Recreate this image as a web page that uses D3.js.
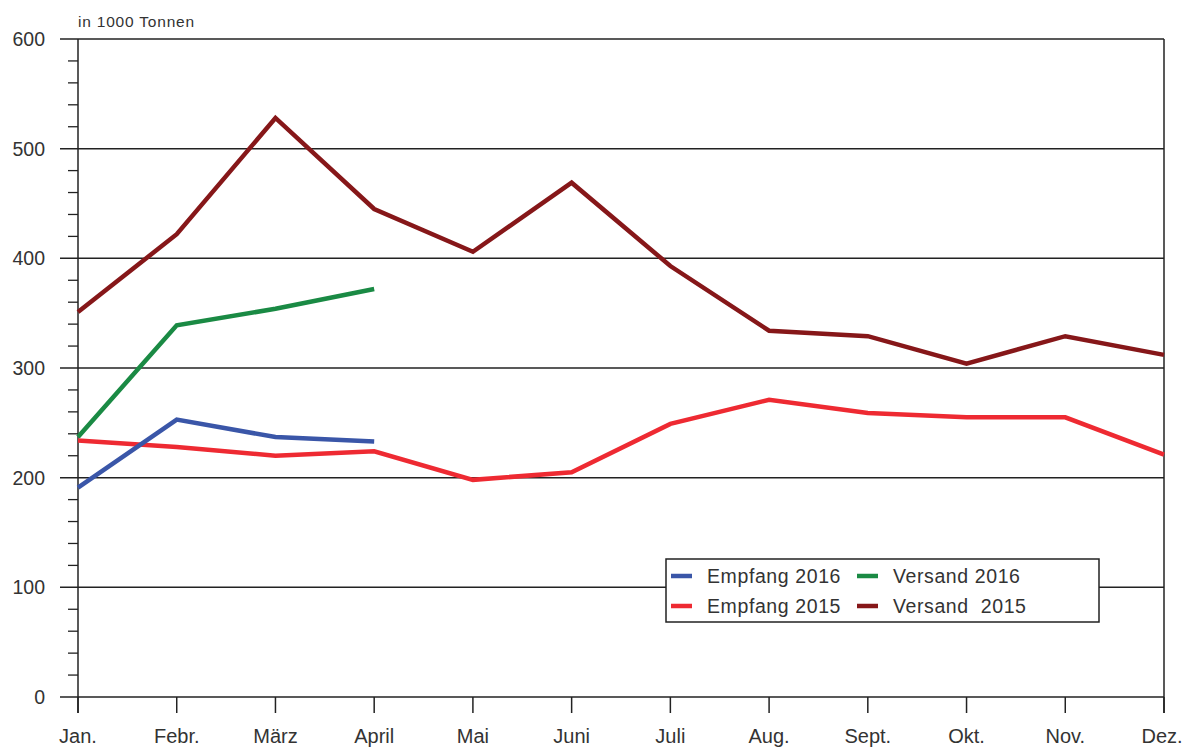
<!DOCTYPE html>
<html>
<head>
<meta charset="utf-8">
<script src="https://cdnjs.cloudflare.com/ajax/libs/d3/7.8.5/d3.min.js"></script>
<style>
  body { margin: 0; background: #fff; }
  text { font-family: "Liberation Sans", Arial, sans-serif; fill: #333; }
</style>
</head>
<body>
<div id="chart"></div>
<script>
var months = ['Jan.', 'Febr.', 'März', 'April', 'Mai', 'Juni', 'Juli', 'Aug.', 'Sept.', 'Okt.', 'Nov.', 'Dez.'];
var yTicks = [0, 100, 200, 300, 400, 500, 600];

var empfang2016 = [191, 253, 237, 233];
var versand2016 = [237, 339, 354, 372];
var empfang2015 = [234, 228, 220, 224, 198, 205, 249, 271, 259, 255, 255, 221];
var versand2015 = [351, 422, 528, 445, 406, 469, 393, 334, 329, 304, 329, 312];

var seriesNames = ['Empfang 2016', 'Versand 2016', 'Empfang 2015', 'Versand  2015'];
var seriesColors = ['#3a56a8', '#1a8a44', '#ee2a32', '#861719'];

var width = 1187, height = 747;
var plotLeft = 78, plotRight = 1164, plotTop = 39, plotBottom = 697;

var svg = d3.select('#chart').append('svg')
    .attr('width', width)
    .attr('height', height);

var x = d3.scalePoint().domain(months).range([plotLeft, plotRight]);
var y = d3.scaleLinear().domain([0, 600]).range([plotBottom, plotTop]);

// minor ticks every 20
var minor = d3.range(0, 601, 20).filter(function(v) { return v % 100 !== 0; });
svg.append('g').selectAll('line').data(minor).enter().append('line')
    .attr('x1', plotLeft - 10).attr('x2', plotLeft)
    .attr('y1', function(d) { return y(d); })
    .attr('y2', function(d) { return y(d); })
    .attr('stroke', '#222').attr('stroke-width', 1.3);

// gridlines
svg.append('g').selectAll('line').data(yTicks).enter().append('line')
    .attr('x1', plotLeft - 18).attr('x2', plotRight)
    .attr('y1', function(d) { return y(d); })
    .attr('y2', function(d) { return y(d); })
    .attr('stroke', '#222').attr('stroke-width', 1.5);

// y labels
svg.append('g').selectAll('text').data(yTicks).enter().append('text')
    .attr('x', 45)
    .attr('y', function(d) { return y(d) + 7; })
    .attr('text-anchor', 'end')
    .attr('font-size', 19.5)
    .text(function(d) { return d; });

// axes frame
svg.append('line').attr('x1', plotLeft).attr('x2', plotLeft).attr('y1', plotTop).attr('y2', plotBottom + 16)
    .attr('stroke', '#222').attr('stroke-width', 1.5);
svg.append('line').attr('x1', plotRight).attr('x2', plotRight).attr('y1', plotTop).attr('y2', plotBottom + 16)
    .attr('stroke', '#222').attr('stroke-width', 1.5);

// x ticks
svg.append('g').selectAll('line').data(months).enter().append('line')
    .attr('x1', function(d) { return x(d); })
    .attr('x2', function(d) { return x(d); })
    .attr('y1', plotBottom).attr('y2', plotBottom + 16)
    .attr('stroke', '#222').attr('stroke-width', 1.5);

svg.append('g').selectAll('text').data(months).enter().append('text')
    .attr('x', function(d, i) { return i === 11 ? x(d) - 2 : x(d); })
    .attr('y', 743)
    .attr('text-anchor', 'middle')
    .attr('font-size', 20)
    .text(function(d) { return d; });

svg.append('text')
    .attr('x', 78).attr('y', 27)
    .attr('font-size', 15.5)
    .attr('letter-spacing', 0.8)
    .text('in 1000 Tonnen');

// lines
var line = d3.line()
    .x(function(d, i) { return x(months[i]); })
    .y(function(d) { return y(d); });

var allSeries = [versand2015, empfang2015, versand2016, empfang2016];
var lineColors = [seriesColors[3], seriesColors[2], seriesColors[1], seriesColors[0]];

svg.append('g').selectAll('path').data(allSeries).enter().append('path')
    .attr('d', line)
    .attr('fill', 'none')
    .attr('stroke', function(d, i) { return lineColors[i]; })
    .attr('stroke-width', 4.5)
    .attr('stroke-linejoin', 'miter');

// legend
var lg = svg.append('g');
lg.append('rect')
    .attr('x', 666).attr('y', 559).attr('width', 433).attr('height', 63)
    .attr('fill', '#fff').attr('stroke', '#222').attr('stroke-width', 1.5);

var legX = [671, 857, 671, 857];
var legY = [576, 576, 606, 606];
seriesNames.forEach(function(name, i) {
  lg.append('line')
      .attr('x1', legX[i]).attr('x2', legX[i] + 21)
      .attr('y1', legY[i]).attr('y2', legY[i])
      .attr('stroke', seriesColors[i]).attr('stroke-width', 4.5);
  lg.append('text')
      .attr('x', legX[i] + 36).attr('y', legY[i] + 7)
      .attr('font-size', 19.5)
      .attr('letter-spacing', 0.6)
      .style('white-space', 'pre')
      .text(name);
});
</script>
</body>
</html>
